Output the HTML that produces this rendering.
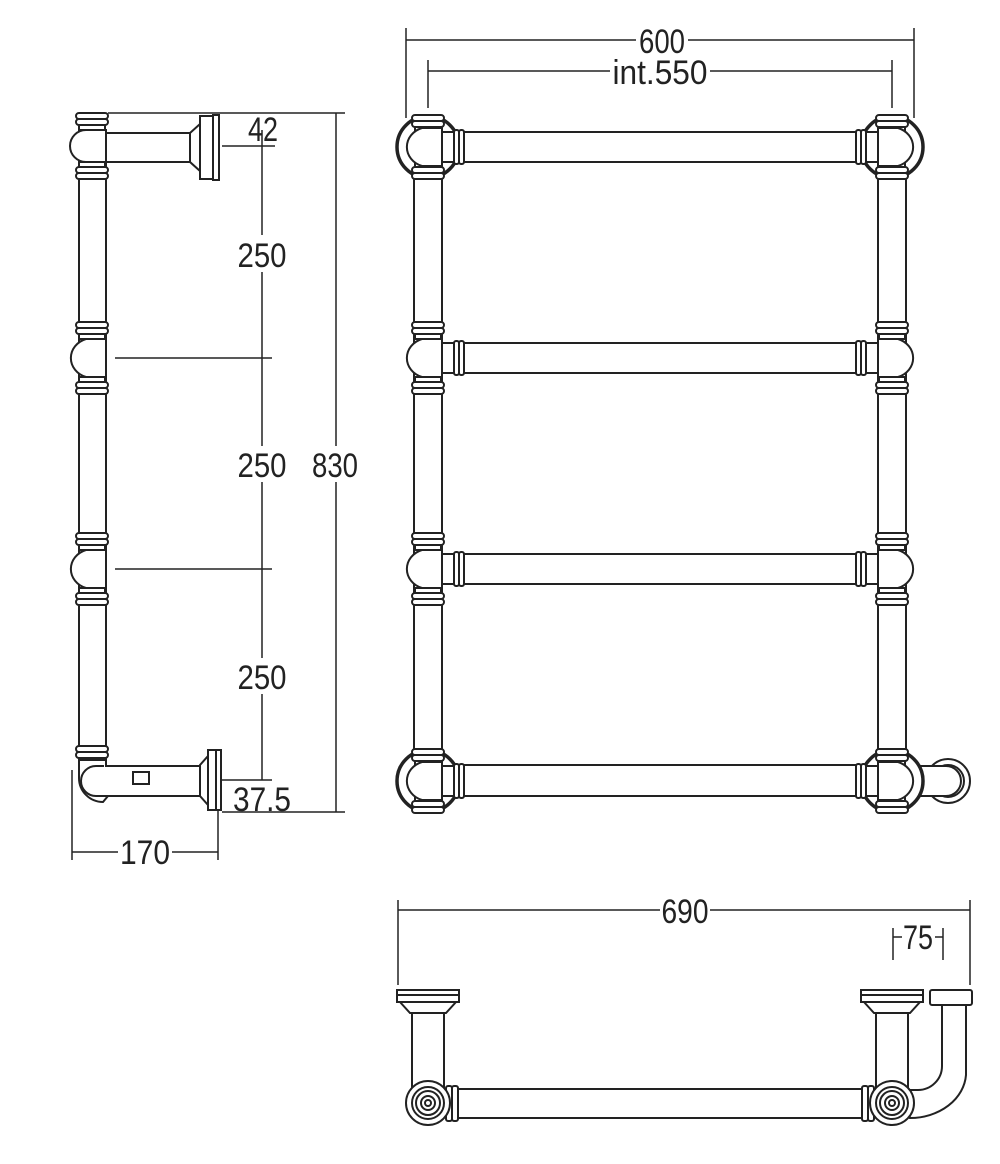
<!DOCTYPE html>
<html><head><meta charset="utf-8"><style>
html,body{margin:0;padding:0;background:#fff}
svg{display:block}
text{font-family:"Liberation Sans",sans-serif;font-size:34px;fill:#222;text-anchor:middle}
</style></head><body>
<svg width="1000" height="1164" viewBox="0 0 1000 1164" xmlns="http://www.w3.org/2000/svg">
<defs>
<g id="collar" fill="#fff" stroke="#222" stroke-width="2">
 <rect x="-16" y="-6" width="32" height="6" rx="3"/>
 <rect x="-16" y="0" width="32" height="6" rx="3"/>
 <rect x="-13" y="6" width="26" height="5"/>
</g>
<g id="ball" stroke="#222" stroke-width="2" fill="#fff">
 <path d="M14,-19 L-6,-19 A22,20 0 0 0 -6,19 L14,19 Z"/>
</g>
<g id="joint" stroke="#222" stroke-width="2" fill="#fff">
 <use href="#collar" transform="translate(0,-30)"/>
 <use href="#collar" transform="translate(0,30) scale(1,-1)"/>
 <use href="#ball"/>
 <rect x="14" y="-15" width="12" height="30"/>
 <rect x="26" y="-17" width="5" height="34" rx="2"/>
 <rect x="31" y="-17" width="5" height="34" rx="2"/>
</g>
<g id="corner" stroke="#222" stroke-width="2" fill="#fff">
 <circle cx="0" cy="0" r="31" stroke-width="3.5"/>
 <use href="#collar" transform="translate(0,-26)"/>
 <use href="#collar" transform="translate(0,26) scale(1,-1)"/>
 <use href="#ball"/>
 <rect x="14" y="-15" width="12" height="30"/>
 <rect x="26" y="-17" width="5" height="34" rx="2"/>
 <rect x="31" y="-17" width="5" height="34" rx="2"/>
</g>
<g id="bg"><rect fill="#fff"/></g>
</defs>
<g stroke="#222" stroke-width="2" fill="none">
<line x1="414" y1="150" x2="414" y2="770"/><line x1="442" y1="150" x2="442" y2="770"/>
<line x1="878" y1="150" x2="878" y2="770"/><line x1="906" y1="150" x2="906" y2="770"/>
<rect x="458" y="132" width="404" height="30" fill="#fff"/>
<rect x="458" y="343" width="404" height="30" fill="#fff"/>
<rect x="458" y="554" width="404" height="30" fill="#fff"/>
<rect x="458" y="765" width="404" height="31" fill="#fff"/>
<circle cx="948" cy="781" r="22" fill="#fff"/><circle cx="948" cy="781" r="16"/>
<rect x="906" y="766" width="40" height="30" fill="#fff" stroke="none"/>
<path d="M906,766 L946,766 M906,796 L946,796"/>
<path d="M946,766 A15,15 0 0 1 946,796"/>
</g>
<use href="#corner" transform="translate(428,147)"/>
<use href="#corner" transform="translate(892,147) scale(-1,1)"/>
<use href="#joint" transform="translate(428,358)"/>
<use href="#joint" transform="translate(892,358) scale(-1,1)"/>
<use href="#joint" transform="translate(428,569)"/>
<use href="#joint" transform="translate(892,569) scale(-1,1)"/>
<use href="#corner" transform="translate(428,781)"/>
<use href="#corner" transform="translate(892,781) scale(-1,1)"/>
<g stroke="#222" stroke-width="1.5">
<line x1="406" y1="28" x2="406" y2="118"/><line x1="914" y1="28" x2="914" y2="118"/>
<line x1="406" y1="40" x2="636" y2="40"/><line x1="688" y1="40" x2="914" y2="40"/>
<line x1="428" y1="60" x2="428" y2="108"/><line x1="892" y1="60" x2="892" y2="108"/>
<line x1="428" y1="71" x2="610" y2="71"/><line x1="710" y1="71" x2="892" y2="71"/>
</g>
<text x="662" y="53" textLength="46" lengthAdjust="spacingAndGlyphs">600</text>
<text x="660" y="84" textLength="95" lengthAdjust="spacingAndGlyphs">int.550</text>

<!-- SIDE VIEW -->
<g stroke="#222" stroke-width="2" fill="#fff">
<line x1="79" y1="160" x2="79" y2="760"/><line x1="106" y1="160" x2="106" y2="760"/>
<rect x="106" y="133" width="84" height="29"/>
<path d="M190,133 L200,124 L200,171 L190,162 Z"/>
<rect x="200" y="116" width="13" height="63"/>
<rect x="213" y="115" width="6" height="65"/>
<rect x="76" y="113" width="32" height="6" rx="3"/><rect x="76" y="119" width="32" height="6" rx="3"/><rect x="79" y="125" width="26" height="5"/>
<path d="M106,130 L86,130 A16,16 0 0 0 86,162 L106,162 Z"/>
<rect x="79" y="162" width="26" height="5"/><rect x="76" y="167" width="32" height="6" rx="3"/><rect x="76" y="173" width="32" height="6" rx="3"/>
<g transform="translate(92,358)">
 <use href="#collar" transform="translate(0,-30)"/>
 <use href="#collar" transform="translate(0,30) scale(1,-1)"/>
 <use href="#ball"/>
</g>
<g transform="translate(92,569)">
 <use href="#collar" transform="translate(0,-30)"/>
 <use href="#collar" transform="translate(0,30) scale(1,-1)"/>
 <use href="#ball"/>
</g>
<use href="#collar" transform="translate(92,752)"/>
<path d="M79,760 L79,778 A24,24 0 0 0 103,802 L108,796 L200,796 L200,766 L106,766 L106,760 Z"/>
<path d="M104,766 L96,766 A15,15 0 0 0 96,796 L108,796"/>
<rect x="133" y="772" width="16" height="12"/>
<path d="M200,765 L208,756 L208,805 L200,796 Z"/>
<rect x="208" y="750" width="8" height="60"/><rect x="216" y="750" width="5" height="60"/>
</g>
<g stroke="#222" stroke-width="1.5">
<line x1="108" y1="113" x2="345" y2="113"/>
<line x1="222" y1="146" x2="275" y2="146"/>
<line x1="115" y1="358" x2="272" y2="358"/>
<line x1="115" y1="569" x2="272" y2="569"/>
<line x1="222" y1="780" x2="272" y2="780"/>
<line x1="222" y1="812" x2="345" y2="812"/>
<line x1="262" y1="130" x2="262" y2="235"/>
<line x1="262" y1="272" x2="262" y2="446"/>
<line x1="262" y1="482" x2="262" y2="658"/>
<line x1="262" y1="694" x2="262" y2="780"/>
<line x1="336" y1="113" x2="336" y2="446"/>
<line x1="336" y1="482" x2="336" y2="812"/>
<line x1="72" y1="770" x2="72" y2="860"/><line x1="218" y1="810" x2="218" y2="860"/>
<line x1="72" y1="852" x2="118" y2="852"/><line x1="172" y1="852" x2="218" y2="852"/>
</g>
<text x="263" y="141" textLength="30" lengthAdjust="spacingAndGlyphs">42</text>
<text x="262" y="267" textLength="49" lengthAdjust="spacingAndGlyphs">250</text>
<text x="262" y="477" textLength="49" lengthAdjust="spacingAndGlyphs">250</text>
<text x="262" y="689" textLength="49" lengthAdjust="spacingAndGlyphs">250</text>
<text x="335" y="477" textLength="46" lengthAdjust="spacingAndGlyphs">830</text>
<rect x="232" y="785" width="60" height="24" fill="#fff"/>
<text x="262" y="811" textLength="58" lengthAdjust="spacingAndGlyphs">37.5</text>
<text x="145" y="864" textLength="50" lengthAdjust="spacingAndGlyphs">170</text>

<!-- TOP VIEW -->
<g stroke="#222" stroke-width="1.5">
<line x1="398" y1="900" x2="398" y2="985"/><line x1="970" y1="900" x2="970" y2="985"/>
<line x1="398" y1="910" x2="660" y2="910"/><line x1="710" y1="910" x2="970" y2="910"/>
<line x1="893" y1="928" x2="893" y2="960"/><line x1="943" y1="928" x2="943" y2="960"/>
<line x1="893" y1="937" x2="902" y2="937"/><line x1="935" y1="937" x2="943" y2="937"/>
</g>
<text x="685" y="923" textLength="47" lengthAdjust="spacingAndGlyphs">690</text>
<text x="918" y="949" textLength="30" lengthAdjust="spacingAndGlyphs">75</text>
<g stroke="#222" stroke-width="2" fill="#fff">
<path d="M966,1005 L966,1075 A56,46 0 0 1 910,1118 L905,1090 L918,1090 A24,24 0 0 0 942,1066 L942,1005 Z"/>
<rect x="930" y="990" width="42" height="15" rx="2"/>
<rect x="450" y="1089" width="420" height="29"/>
<rect x="446" y="1086" width="6" height="35" rx="2"/><rect x="452" y="1086" width="6" height="35" rx="2"/>
<rect x="862" y="1086" width="6" height="35" rx="2"/><rect x="868" y="1086" width="6" height="35" rx="2"/>
<g id="post">
 <rect x="412" y="1012" width="32" height="75"/>
 <path d="M400,1002 L456,1002 L446,1013 L410,1013 Z"/>
 <rect x="397" y="990" width="62" height="12"/>
 <line x1="397" y1="995" x2="459" y2="995"/>
 <circle cx="428" cy="1103" r="22"/>
 <circle cx="428" cy="1103" r="16"/>
 <circle cx="428" cy="1103" r="12"/>
 <circle cx="428" cy="1103" r="7"/>
 <circle cx="428" cy="1103" r="3"/>
</g>
<use href="#post" transform="translate(464,0)"/>
</g>
</svg>
</body></html>
